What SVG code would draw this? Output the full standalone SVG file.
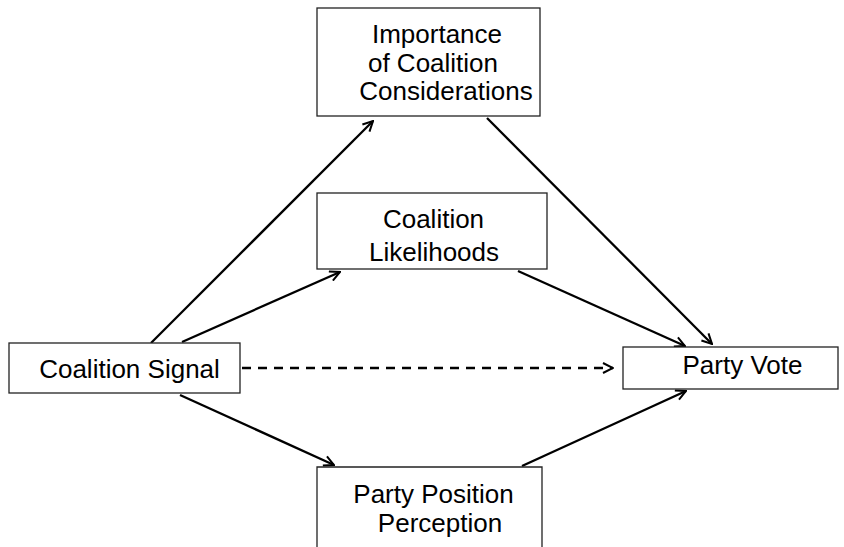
<svg xmlns="http://www.w3.org/2000/svg" width="844" height="547" viewBox="0 0 844 547">
<style>
.box{fill:#fff;stroke:#222;stroke-width:1.3}
.t{font-family:"Liberation Sans",Arial,sans-serif;font-size:26px;fill:#000;text-anchor:middle}
.c{stroke:#000;stroke-width:2.3;fill:none}
.d{stroke-dasharray:9 7}
</style>
<defs>
<marker id="ah" viewBox="0 0 12 12" refX="11" refY="6" markerWidth="12" markerHeight="12" markerUnits="userSpaceOnUse" orient="auto">
<path d="M1,1 L11,6 L1,11" fill="none" stroke="#000" stroke-width="2"/>
</marker>
</defs>
<rect width="844" height="547" fill="#fff"/>
<g id="connectors">
<line class="c" x1="151" y1="343" x2="373" y2="121" marker-end="url(#ah)"/>
<line class="c" x1="182" y1="342" x2="340" y2="272" marker-end="url(#ah)"/>
<line class="c d" x1="242" y1="368" x2="613" y2="368" marker-end="url(#ah)"/>
<line class="c" x1="180" y1="395" x2="334" y2="465" marker-end="url(#ah)"/>
<line class="c" x1="487" y1="118" x2="712" y2="344" marker-end="url(#ah)"/>
<line class="c" x1="518" y1="271" x2="685" y2="346" marker-end="url(#ah)"/>
<line class="c" x1="522" y1="466" x2="686" y2="391" marker-end="url(#ah)"/>
</g>
<g id="importance">
<rect class="box" x="317" y="8" width="223" height="108"/>
<text class="t" x="437" y="43">Importance</text>
<text class="t" x="433" y="71.5">of Coalition</text>
<text class="t" x="446" y="100">Considerations</text>
</g>
<g id="likelihoods">
<rect class="box" x="317" y="193" width="230" height="76"/>
<text class="t" x="433.5" y="228">Coalition</text>
<text class="t" x="434" y="261">Likelihoods</text>
</g>
<g id="signal">
<rect class="box" x="9" y="343" width="231" height="50"/>
<text class="t" x="129.5" y="378">Coalition Signal</text>
</g>
<g id="vote">
<rect class="box" x="623" y="347" width="215" height="42"/>
<text class="t" x="742.5" y="374">Party Vote</text>
</g>
<g id="position">
<path class="box" d="M317,560 V467 H542 V560"/>
<text class="t" x="433.5" y="503">Party Position</text>
<text class="t" x="440" y="532">Perception</text>
</g>
</svg>
